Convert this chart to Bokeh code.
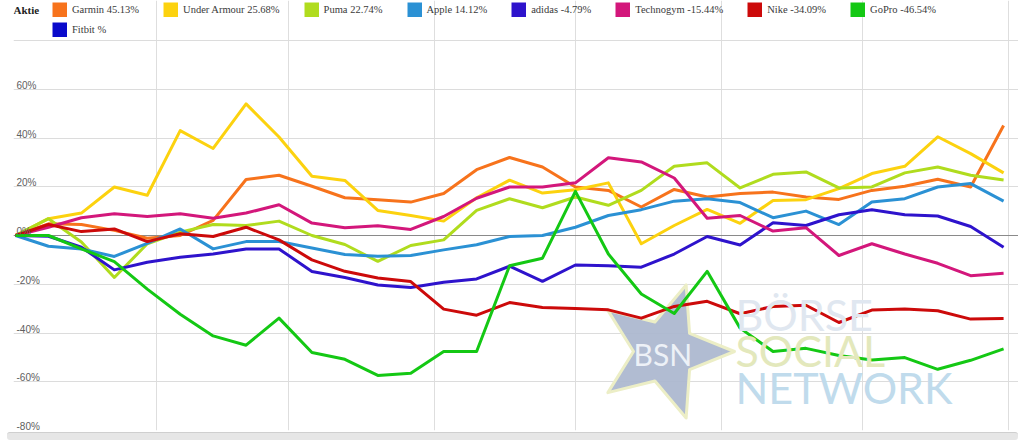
import math
import pandas as pd
from bokeh.plotting import figure
from bokeh.models import (Legend, LegendItem, Range1d, FixedTicker, ColumnDataSource,
                          Label, Div, Span)
from bokeh.layouts import column
from bokeh.embed import file_html
from bokeh.resources import INLINE
from bokeh.core.properties import value

# ---------------- data ----------------
dates = pd.date_range("2017-01-02", periods=31, freq="7D")
month_starts = pd.date_range("2017-02-01", periods=7, freq="MS")

names = ["Garmin", "Under Armour", "Puma", "Apple", "adidas", "Technogym", "Nike", "GoPro", "Fitbit"]
colors = ["#f7731c", "#fcd20f", "#b0dc1e", "#2b91d4", "#2e13cc", "#d3177b", "#cc0a0a", "#14c814", "#0a0acb"]

garmin = [0, 4.8, 4.5, 2.1, -1.1, 0, 6.2, 23, 24.7, 20.2, 15.5, 14.7, 13.7, 17.2, 27, 32, 28.1,
          19.9, 18.5, 11.7, 18.9, 15.8, 17.2, 17.8, 15.8, 14.8, 18.5, 20.2, 23.1, 19.9, 45.13]
under_armour = [0, 6.9, 9.2, 19.9, 16.5, 43, 35.7, 54, 40.4, 24.3, 22.6, 10.3, 8.2, 5.9, 15.5, 22.7,
                17.4, 18.8, 21.6, -3.4, 4.1, 10.7, 5.0, 14.4, 14.7, 19.2, 25.4, 28.4, 40.5, 33.6, 25.68]
puma = [0, 6.9, -2.7, -17.2, -3.4, 1.4, 4.5, 4.1, 5.9, 0, -3.7, -10.6, -4.1, -1.8, 10.3, 15.1, 11.4,
        15.8, 12.4, 18.5, 28.4, 29.8, 19.5, 25.1, 26.1, 19.5, 19.9, 25.7, 28.1, 24.7, 22.74]
apple = [0, -4.4, -5.5, -8.6, -3.2, 2.7, -5.5, -2.5, -2.5, -5.1, -7.8, -8.5, -8.2, -5.9, -3.8, -0.4, 0,
         3.4, 8.2, 10.6, 14.1, 15.1, 13.5, 7.3, 10, 4.5, 13.7, 15.1, 19.9, 21.3, 14.12]
adidas = [0, -0.3, -4.8, -14.1, -11, -8.9, -7.6, -5.5, -5.5, -14.8, -17.2, -20.3, -21.3, -19.2, -17.8,
          -12.6, -18.8, -12.1, -12.4, -13, -7.6, -0.4, -3.9, 5.2, 4.1, 8.5, 10.6, 8.5, 8, 3.7, -4.79]
technogym = [0, 3.4, 7.3, 8.9, 7.8, 8.9, 7.1, 9.2, 12.6, 5.1, 3.2, 4, 2.5, 7.8, 15.3, 19.9, 19.9, 21.6,
             31.9, 30.2, 23.6, 7.1, 8.2, 1.8, 3.2, -8.2, -3.4, -7.6, -11.4, -16.5, -15.44]
nike = [0, 4.5, 1.6, 2.7, -2.5, 0.7, -0.4, 3.4, -1.8, -10, -14.7, -17.4, -18.9, -30.2, -32.7, -27.5,
        -29.5, -29.9, -30.5, -33.9, -29.1, -27, -32.1, -29.1, -28.6, -35.7, -30.6, -30.2, -30.9, -34.3, -34.09]
gopro = [0, 0, -5.5, -10.7, -22, -32.3, -41.2, -45, -33.9, -48, -50.8, -57.4, -56.5, -47.6, -47.6, -12.4,
         -9.3, 18.1, -7.6, -24, -32, -14.7, -38, -47.6, -46.3, -49.2, -51.1, -50.1, -54.9, -51.2, -46.54]
fitbit = []

series = [garmin, under_armour, puma, apple, adidas, technogym, nike, gopro, fitbit]

y_ticks = [-80, -60, -40, -20, 0, 20, 40, 60, 80]
y_tick_labels = ["-80%", "-60%", "-40%", "-20%", "0%", "20%", "40%", "60%", ""]

# ---------------- figure ----------------
W, H = 1018, 432          # frame: x 13..1018, y 0..430 (top 40 px hold the legend)
LEFT = 13
BOTTOM = 2
FRAME_H = H - BOTTOM
LEGEND_H = 40
PLOT_H = FRAME_H - LEGEND_H     # pixels between +80% and -80%

x0 = dates[0] - pd.Timedelta(days=0.43)
x1 = dates[-1] + pd.Timedelta(days=3.17)
y_lo, y_hi = -80, 80
y_top = y_hi + LEGEND_H * (y_hi - y_lo) / PLOT_H

p = figure(width=W, height=H, x_axis_type="datetime",
           x_range=Range1d(x0.to_pydatetime(), x1.to_pydatetime()),
           y_range=Range1d(y_lo, y_top),
           x_axis_location=None, y_axis_location=None,
           toolbar_location=None, output_backend="svg",
           min_border_left=LEFT, min_border_right=0, min_border_top=0, min_border_bottom=BOTTOM)
p.outline_line_color = None
p.background_fill_color = "white"

epoch = pd.Timestamp("1970-01-01")
p.xgrid.ticker = FixedTicker(ticks=[(m - epoch) / pd.Timedelta(milliseconds=1) for m in month_starts])
p.xgrid.grid_line_color = "#dedede"
p.xgrid.bounds = (y_lo, y_hi)
p.ygrid.ticker = FixedTicker(ticks=y_ticks)
p.ygrid.grid_line_color = "#dcdcdc"

p.add_layout(Span(location=0, dimension="width", line_color="#8a8a8a", line_width=1, level="underlay"))

# ---------------- watermark (background decoration) ----------------
FRAME_W = W - LEFT
def to_x(px):
    return (x0 + (x1 - x0) * ((px - LEFT) / FRAME_W)).to_pydatetime()

def to_y(py):
    return y_top - py / FRAME_H * (y_top - y_lo)

# five-pointed star, one point facing right (screen pixels -> data)
cx, cy, r_out, r_in = 664, 351, 70, 31
star_px, star_py = [], []
for k in range(10):
    ang = math.radians(36 * k)
    rr = r_out if k % 2 == 0 else r_in
    star_px.append(cx + rr * math.cos(ang))
    star_py.append(cy + rr * math.sin(ang))
p.patch(x=[to_x(v) for v in star_px], y=[to_y(v) for v in star_py],
        fill_color="#aab6ce", fill_alpha=0.92, line_color="#eceec6", line_width=3, line_join="round")
p.add_layout(Label(x=620, y=77, x_units="screen", y_units="screen", text="BSN",
                   text_font="Lato", text_font_size="30px", text_color="#edf1f7",
                   text_baseline="alphabetic"))
for txt, yb, col in [("BÖRSE", 116, "#e0e7f0"), ("SOCIAL", 80, "#e3e8bc"), ("NETWORK", 43, "#c0dbec")]:
    p.add_layout(Label(x=722, y=yb, x_units="screen", y_units="screen", text=txt,
                       text_font="Lato", text_font_size="43px", text_color=col,
                       text_baseline="alphabetic"))

# ---------------- lines ----------------
for vals, col in zip(series, colors):
    if vals:
        p.line(x=list(dates[:len(vals)]), y=vals, line_width=3, line_color=col, line_join="round")

# y labels inside the plot
lab_src = ColumnDataSource(dict(x=[x0.to_pydatetime()] * len(y_ticks), y=y_ticks, t=y_tick_labels))
p.text(x="x", y="y", text="t", source=lab_src, x_offset=3, y_offset=-4,
       text_font=value("Liberation Sans"), text_font_size="10px", text_color="#606060",
       text_align="left", text_baseline="alphabetic")

# ---------------- legend ----------------
items = []
for name, vals, col in zip(names, series, colors):
    # legend swatch: a thick line renderer holding no visible point
    r = p.line(x=[float("nan")], y=[float("nan")], line_width=15, line_color=col)
    lab = f"{name} {vals[-1]:.2f}%" if vals else f"{name} %"
    items.append(LegendItem(label=lab, renderers=[r]))

common = dict(orientation="horizontal", glyph_width=15, glyph_height=15, label_height=15,
              label_standoff=5, spacing=24, padding=0, margin=0,
              border_line_color=None, background_fill_alpha=0,
              label_text_font="Liberation Serif", label_text_font_size="10.5px",
              label_text_color="#3a3a3a", click_policy="none")

leg1 = Legend(items=items[:8], location=(39, FRAME_H - 17), **common)
leg2 = Legend(items=items[8:], location=(39, FRAME_H - 37), **common)
p.add_layout(leg1)
p.add_layout(leg2)
p.add_layout(Label(x=0, y=FRAME_H - 9.5, x_units="screen", y_units="screen", text="Aktie",
                   text_font="Liberation Serif", text_font_size="11px", text_font_style="bold",
                   text_color="#222222", text_baseline="middle"))

band = Div(text="", width=W - 7, height=8, margin=(0, 0, 0, 7),
           styles={"background-color": "#e6e6e6", "border-top": "1px solid #cfcfcf",
                   "border-radius": "3px", "box-sizing": "border-box"})

layout = column(p, band, spacing=0)
open("out.html", "w").write(file_html(layout, INLINE))
